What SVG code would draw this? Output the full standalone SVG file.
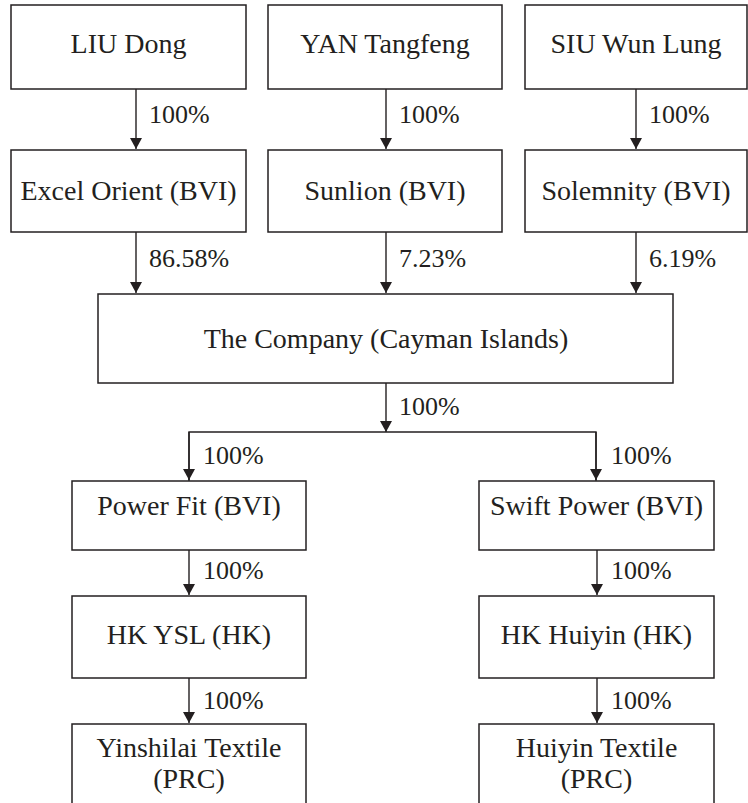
<svg xmlns="http://www.w3.org/2000/svg" width="748" height="803" viewBox="0 0 748 803">
<style>
.box{fill:#fff;stroke:#231f20;stroke-width:1.5}
.t{font-family:'Liberation Serif','Times New Roman',serif;font-size:28px;fill:#231f20;text-anchor:middle}
.l{font-family:'Liberation Serif','Times New Roman',serif;font-size:26px;fill:#231f20}
.c{fill:none;stroke:#231f20;stroke-width:1.4}
</style>
<defs>
<marker id="ah" markerWidth="11" markerHeight="12" refX="11" refY="6" orient="auto" markerUnits="userSpaceOnUse" viewBox="0 0 11 12">
<path d="M0,0 L11,6 L0,12 Z" fill="#231f20"/>
</marker>
</defs>
<rect width="748" height="803" fill="#fff"/>
<g id="connectors">
<path class="c" d="M136,89 V149" marker-end="url(#ah)"/>
<path class="c" d="M386,89 V149" marker-end="url(#ah)"/>
<path class="c" d="M636,89 V149" marker-end="url(#ah)"/>
<path class="c" d="M136,232 V293" marker-end="url(#ah)"/>
<path class="c" d="M386,232 V293" marker-end="url(#ah)"/>
<path class="c" d="M636,232 V293" marker-end="url(#ah)"/>
<path class="c" d="M386,383 V432" marker-end="url(#ah)"/>
<path class="c" d="M189,481 V432 H596 V481"/>
<path class="c" d="M189,432 V480" marker-end="url(#ah)"/>
<path class="c" d="M596,432 V480" marker-end="url(#ah)"/>
<path class="c" d="M189,550 V595" marker-end="url(#ah)"/>
<path class="c" d="M597,550 V595" marker-end="url(#ah)"/>
<path class="c" d="M189,678 V723" marker-end="url(#ah)"/>
<path class="c" d="M597,678 V723" marker-end="url(#ah)"/>
<text class="l" x="149" y="123">100%</text>
<text class="l" x="399" y="123">100%</text>
<text class="l" x="649" y="123">100%</text>
<text class="l" x="149" y="267">86.58%</text>
<text class="l" x="399" y="267">7.23%</text>
<text class="l" x="649" y="267">6.19%</text>
<text class="l" x="399" y="415">100%</text>
<text class="l" x="203" y="464">100%</text>
<text class="l" x="611" y="464">100%</text>
<text class="l" x="203" y="579">100%</text>
<text class="l" x="611" y="579">100%</text>
<text class="l" x="203" y="709">100%</text>
<text class="l" x="611" y="709">100%</text>
</g>
<g id="liu"><rect class="box" x="11" y="5" width="235" height="84"/><text class="t" x="128.5" y="53">LIU Dong</text></g>
<g id="yan"><rect class="box" x="268" y="5" width="234" height="84"/><text class="t" x="385" y="53">YAN Tangfeng</text></g>
<g id="siu"><rect class="box" x="525" y="5" width="222" height="84"/><text class="t" x="636" y="53">SIU Wun Lung</text></g>
<g id="excel"><rect class="box" x="11" y="150" width="235" height="82"/><text class="t" x="128.5" y="200">Excel Orient (BVI)</text></g>
<g id="sunlion"><rect class="box" x="268" y="150" width="234" height="82"/><text class="t" x="385" y="200">Sunlion (BVI)</text></g>
<g id="solemnity"><rect class="box" x="525" y="150" width="222" height="82"/><text class="t" x="636" y="200">Solemnity (BVI)</text></g>
<g id="company"><rect class="box" x="98" y="294" width="575" height="89"/><text class="t" x="386" y="348">The Company (Cayman Islands)</text></g>
<g id="powerfit"><rect class="box" x="72" y="481" width="234" height="69"/><text class="t" x="189" y="515">Power Fit (BVI)</text></g>
<g id="swift"><rect class="box" x="479" y="481" width="235" height="69"/><text class="t" x="596.5" y="515">Swift Power (BVI)</text></g>
<g id="hkysl"><rect class="box" x="72" y="596" width="234" height="82"/><text class="t" x="189" y="644">HK YSL (HK)</text></g>
<g id="hkhuiyin"><rect class="box" x="479" y="596" width="235" height="82"/><text class="t" x="596.5" y="644">HK Huiyin (HK)</text></g>
<g id="yinshilai"><rect class="box" x="72" y="724" width="234" height="90"/><text class="t" x="189" y="757">Yinshilai Textile</text><text class="t" x="189" y="788">(PRC)</text></g>
<g id="huiyin"><rect class="box" x="479" y="724" width="235" height="90"/><text class="t" x="596.5" y="757">Huiyin Textile</text><text class="t" x="596.5" y="788">(PRC)</text></g>
</svg>
